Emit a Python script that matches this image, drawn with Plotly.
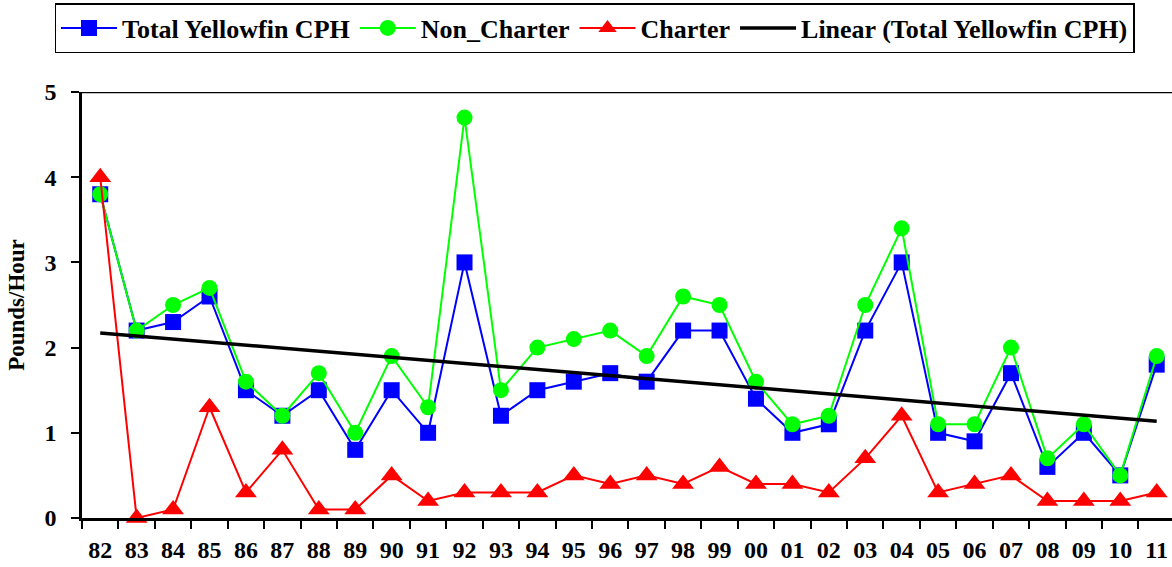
import numpy as np
import plotly.graph_objects as go

years = ["82", "83", "84", "85", "86", "87", "88", "89", "90", "91",
         "92", "93", "94", "95", "96", "97", "98", "99", "00", "01",
         "02", "03", "04", "05", "06", "07", "08", "09", "10", "11"]
total = [3.8, 2.2, 2.3, 2.6, 1.5, 1.2, 1.5, 0.8, 1.5, 1.0,
         3.0, 1.2, 1.5, 1.6, 1.7, 1.6, 2.2, 2.2, 1.4, 1.0,
         1.1, 2.2, 3.0, 1.0, 0.9, 1.7, 0.6, 1.0, 0.5, 1.8]
non_charter = [3.8, 2.2, 2.5, 2.7, 1.6, 1.2, 1.7, 1.0, 1.9, 1.3,
               4.7, 1.5, 2.0, 2.1, 2.2, 1.9, 2.6, 2.5, 1.6, 1.1,
               1.2, 2.5, 3.4, 1.1, 1.1, 2.0, 0.7, 1.1, 0.5, 1.9]
charter = [4.0, 0.0, 0.1, 1.3, 0.3, 0.8, 0.1, 0.1, 0.5, 0.2,
           0.3, 0.3, 0.3, 0.5, 0.4, 0.5, 0.4, 0.6, 0.4, 0.4,
           0.3, 0.7, 1.2, 0.3, 0.4, 0.5, 0.2, 0.2, 0.2, 0.3]

idx = np.arange(len(total))
slope, intercept = np.polyfit(idx, total, 1)
trend = intercept + slope * idx

FONT = "Liberation Serif"
XRANGE = [-0.5, 29.42]

fig = go.Figure()
fig.add_trace(go.Scatter(
    x=years, y=total, name="<b>Total Yellowfin CPH</b>", mode="lines+markers",
    line=dict(color="#0000FF", width=2),
    marker=dict(symbol="square", size=16, color="#0000FF"),
    cliponaxis=False, legendrank=1))
fig.add_trace(go.Scatter(
    x=years, y=non_charter, name="<b>Non_Charter</b>", mode="lines+markers",
    line=dict(color="#00FF00", width=2),
    marker=dict(symbol="circle", size=16, color="#00FF00"),
    cliponaxis=False, legendrank=2))
fig.add_trace(go.Scatter(
    x=years, y=charter, name="<b>Charter</b>", mode="lines+markers",
    line=dict(color="#FF0000", width=2),
    marker=dict(symbol="triangle-up", size=19, color="#FF0000"),
    cliponaxis=False, legendrank=3))
fig.add_trace(go.Scatter(
    x=years, y=trend, name="<b>Linear (Total Yellowfin CPH)</b>", mode="lines",
    line=dict(color="#000000", width=3.5),
    cliponaxis=False, legendrank=4))

fig.update_layout(
    width=1172, height=567,
    margin=dict(l=82, r=0, t=92, b=49, autoexpand=False),
    paper_bgcolor="white", plot_bgcolor="white",
    font=dict(family=FONT, size=21, color="black"),
    showlegend=True,
    legend=dict(
        orientation="h", xref="container", x=(41 + 1148) / 2 / 1172, xanchor="center",
        yref="container", y=1 - 3 / 567, yanchor="top",
        bordercolor="black", borderwidth=1.5,
        font=dict(family=FONT, size=26, color="black"),
        itemwidth=56, tracegroupgap=0,
    ),
    xaxis=dict(
        type="category", range=XRANGE,
        showline=True, linecolor="black", linewidth=2.5,
        ticks="outside", tickson="boundaries", ticklen=8, tickwidth=2, tickcolor="black",
        tickfont=dict(family=FONT, size=24, color="black", weight="bold"),
        ticklabelstandoff=8,
        showgrid=False, zeroline=False, mirror=False,
    ),
    yaxis=dict(
        range=[0, 5], tickvals=[0, 1, 2, 3, 4, 5],
        showline=True, linecolor="black", linewidth=2.5,
        ticks="outside", ticklen=8, tickwidth=2, tickcolor="black",
        tickfont=dict(family=FONT, size=24, color="black", weight="bold"),
        ticklabelstandoff=10,
        showgrid=False, zeroline=False,
        title=dict(text="<b>Pounds/Hour</b>", font=dict(family=FONT, size=23, color="black"), standoff=14),
    ),
)
# top border line of plot area at y=5
fig.add_hline(y=5, line=dict(color="black", width=2.5))

fig.write_html("out.html", config={"displayModeBar": False},
               post_script="document.body.style.margin='0';document.body.style.padding='0';")
